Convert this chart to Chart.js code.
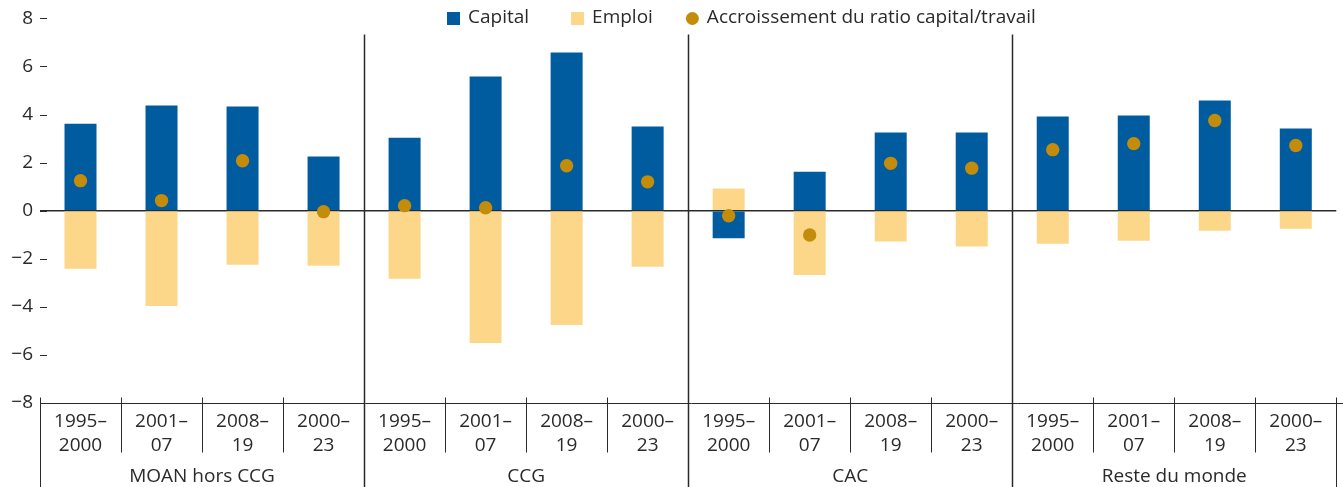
<!DOCTYPE html>
<html lang="fr">
<head>
<meta charset="utf-8">
<title>Capital, emploi et ratio capital/travail</title>
<script src="https://cdn.jsdelivr.net/npm/chart.js@4.4.1/dist/chart.umd.min.js"></script>
<style>
  html, body { margin: 0; padding: 0; background: #fff; }
  #wrap { width: 1343px; height: 487px; }
</style>
</head>
<body>
<div id="wrap"><canvas id="chart" width="1343" height="487"></canvas></div>
<script>
// ==========================================
// Données
// ==========================================

const groups = ['MOAN hors CCG', 'CCG', 'CAC', 'Reste du monde'];
const periods = [['1995–', '2000'], ['2001–', '07'], ['2008–', '19'], ['2000–', '23']];

// contributions (points de pourcentage), 4 périodes par groupe
const capital = [3.62, 4.38, 4.33, 2.25, 3.04, 5.58, 6.58, 3.50, -1.15, 1.62, 3.25, 3.25, 3.92, 3.96, 4.58, 3.42];
const emploi = [-2.42, -3.96, -2.25, -2.29, -2.83, -5.50, -4.75, -2.33, 0.92, -2.67, -1.28, -1.49, -1.37, -1.25, -0.83, -0.75];
const ratio = [1.25, 0.42, 2.08, -0.04, 0.21, 0.12, 1.87, 1.20, -0.21, -1.01, 1.97, 1.77, 2.54, 2.79, 3.75, 2.71];

const yTicks = [-8, -6, -4, -2, 0, 2, 4, 6, 8];

const seriesNames = ['Capital', 'Emploi', 'Accroissement du ratio capital/travail'];

// ==========================================
// Style
// ==========================================

const BLUE = '#005c9e';
const YELLOW = '#fdd789';
const GOLD = '#c48c0b';
const INK = '#2a2a2a';
const FONT = '"Open Sans", Lato, sans-serif';
const FONT_SIZE = 19;

// un libellé par barre, construit depuis groupes x périodes
const labels = [];
groups.forEach(() => periods.forEach(p => labels.push(p)));

// ==========================================
// Décor : tirets de l'axe y, axe bas, séparateurs, groupes, légende
// ==========================================

const decorPlugin = {
  id: 'decor',
  afterDraw(chart) {
    const ctx = chart.ctx;
    const x = chart.scales.x;
    const y = chart.scales.y;
    const area = chart.chartArea;
    const n = labels.length;
    const per = periods.length;

    ctx.save();
    ctx.strokeStyle = INK;
    ctx.lineWidth = 1;

    // petits tirets à côté des valeurs y
    yTicks.forEach(v => {
      const py = Math.round(y.getPixelForValue(v)) + 0.5;
      ctx.beginPath();
      ctx.moveTo(area.left, py);
      ctx.lineTo(area.left + 7, py);
      ctx.stroke();
    });

    // ligne du bas (à -8)
    const by = Math.round(y.getPixelForValue(yTicks[0])) + 0.5;
    ctx.beginPath();
    ctx.moveTo(area.left, by);
    ctx.lineTo(chart.width, by);
    ctx.stroke();

    // séparateurs verticaux
    const bound = i => {
      if (i === 0) return x.left;
      if (i === n) return x.right;
      return (x.getPixelForValue(i - 1) + x.getPixelForValue(i)) / 2;
    };
    for (let i = 0; i <= n; i++) {
      const px = Math.round(bound(i)) + 0.5;
      let top = by - 6;
      let bottom = by + 49;
      if (i === 0 || i === n) {
        bottom = chart.height;
      } else if (i % per === 0) {
        top = area.top + 16;
        bottom = chart.height;
        ctx.lineWidth = 1.5;
      }
      ctx.beginPath();
      ctx.moveTo(px, top);
      ctx.lineTo(px, bottom);
      ctx.stroke();
      ctx.lineWidth = 1;
    }

    // noms des groupes
    ctx.fillStyle = INK;
    ctx.font = FONT_SIZE + 'px ' + FONT;
    ctx.textAlign = 'center';
    ctx.textBaseline = 'middle';
    groups.forEach((g, k) => {
      const cx = (bound(k * per) + bound((k + 1) * per)) / 2;
      ctx.fillText(g, cx, by + 73);
    });

    // légende
    const ly = 18;
    let lx = 447;
    ctx.textAlign = 'left';
    const colors = [BLUE, YELLOW, GOLD];
    const gaps = [42, 33, 0];
    seriesNames.forEach((name, i) => {
      ctx.fillStyle = colors[i];
      if (i < 2) {
        ctx.fillRect(lx, ly - 6, 13, 13);
      } else {
        ctx.beginPath();
        ctx.arc(lx + 6.5, ly + 0.5, 6.5, 0, Math.PI * 2);
        ctx.fill();
      }
      lx += 21;
      ctx.fillStyle = INK;
      ctx.fillText(name, lx, ly);
      lx += ctx.measureText(name).width + gaps[i];
    });

    ctx.restore();
  }
};

// ==========================================
// Graphique
// ==========================================

new Chart(document.getElementById('chart'), {
  type: 'bar',
  data: {
    labels: labels,
    datasets: [
      {
        type: 'line',
        label: seriesNames[2],
        data: ratio,
        showLine: false,
        pointRadius: 6.7,
        pointHoverRadius: 6.7,
        pointBackgroundColor: GOLD,
        pointBorderWidth: 0,
        stack: 'ratio',
        order: 0
      },
      {
        label: seriesNames[0],
        data: capital,
        backgroundColor: BLUE,
        stack: 'contrib',
        barPercentage: 0.395,
        categoryPercentage: 1,
        order: 1
      },
      {
        label: seriesNames[1],
        data: emploi,
        backgroundColor: YELLOW,
        stack: 'contrib',
        barPercentage: 0.395,
        categoryPercentage: 1,
        order: 2
      }
    ]
  },
  options: {
    responsive: false,
    animation: false,
    devicePixelRatio: 1,
    layout: { padding: { top: 8, right: 6, left: 0, bottom: 0 } },
    plugins: {
      legend: { display: false },
      tooltip: { enabled: false }
    },
    scales: {
      x: {
        stacked: true,
        grid: { display: false },
        border: { display: false },
        ticks: {
          color: INK,
          font: { family: FONT, size: FONT_SIZE, lineHeight: 1.3 },
          padding: -2,
          maxRotation: 0,
          autoSkip: false
        },
        afterFit(scale) { scale.height = 84; }
      },
      y: {
        stacked: true,
        min: -8,
        max: 8,
        border: { display: false },
        grid: {
          drawTicks: false,
          color: ctx => ctx.tick && ctx.tick.value === 0 ? INK : 'rgba(0,0,0,0)',
          lineWidth: ctx => ctx.tick && ctx.tick.value === 0 ? 1.5 : 0
        },
        ticks: {
          stepSize: 2,
          color: INK,
          padding: 7,
          font: { family: FONT, size: FONT_SIZE },
          callback: v => String(v).replace('-', '−')
        },
        afterFit(scale) { scale.width = 40; }
      }
    }
  },
  plugins: [decorPlugin]
});
</script>
</body>
</html>
